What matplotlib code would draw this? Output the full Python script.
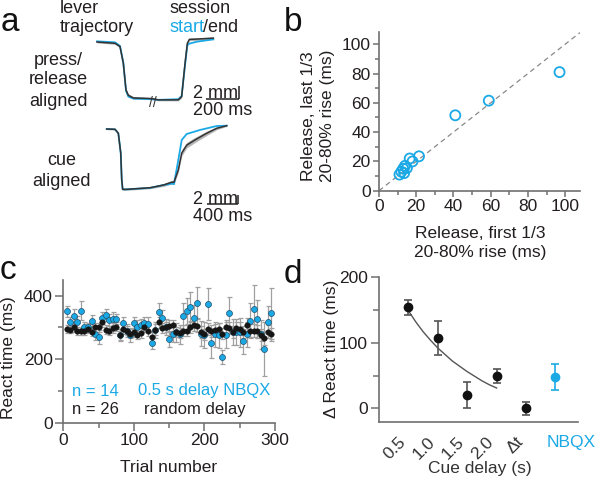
import numpy as np
import matplotlib
matplotlib.use('Agg')
import matplotlib.pyplot as plt
from matplotlib.ticker import MultipleLocator

plt.rcParams['font.family'] = ['Liberation Sans', 'DejaVu Sans']
plt.rcParams['font.size'] = 12.5

BLUE = '#1ba9e6'
AXC = '#707070'
TXT = '#231f20'
W, H = 600, 483

# ---- panel a : mean lever trajectories (time ms, position mm) ----
press_t = [0, 108, 138, 158, 174, 188, 218, 328, 368, 488, 508, 528, 542, 554, 600, 698]
press_black = [0, -0.2, -0.7, -3.3, -7.4, -8.2, -8.6, -8.7, -8.9, -8.9, -8.4, -3.3, -0.2, 0.4, 0.45, 0.6]
press_blue = [0.1, -0.05, -0.6, -3.2, -7.5, -8.4, -8.7, -8.8, -8.9, -8.8, -8.3, -3.6, -0.5, -0.25, 0.05, 0.4]
press_sem = [0.15, 0.15, 0.2, 0.3, 0.3, 0.25, 0.2, 0.15, 0.15, 0.15, 0.2, 0.3, 0.3, 0.2, 0.2, 0.15]

cue_t_blue = [0, 107, 150, 181, 194, 206, 258, 559, 730, 839, 868, 924, 968, 1032, 1204, 1419, 1548]
cue_blue = [0, -0.06, -0.9, -5.05, -10.7, -12.7, -12.7, -12.4, -11.8, -11.5, -11.6, -6.5, -2.3, -1.05, -0.2, 0.63, 0.7]
cue_t_black = [0, 107, 150, 181, 194, 206, 258, 559, 730, 839, 868, 924, 968, 1032, 1139, 1290, 1419, 1548]
cue_black = [0, -0.06, -0.9, -5.05, -10.7, -12.7, -12.7, -12.36, -11.8, -11.2, -11.2, -8.6, -5.05, -3.4, -2.3, -0.9, 0.15, 0.7]
cue_sem = [0.15, 0.15, 0.2, 0.3, 0.3, 0.2, 0.2, 0.2, 0.3, 0.4, 0.45, 0.5, 0.6, 0.6, 0.55, 0.45, 0.3, 0.15]

# ---- panel b : 20-80% rise times ----
rise_first = [97, 59, 41, 21.5, 16.5, 18, 14, 13, 12, 11, 13.5, 15]
rise_last = [81, 61.5, 51.5, 23.5, 22, 20, 17, 15, 13, 11, 12, 15.5]

# ---- panel c : reaction time across trials ----
trials = np.arange(5, 300, 5)
rt_nbqx = [350, 318, 337, 318, 353, 302, 300, 320, 279, 271, 329, 339, 323, 327, 326,
           276, 315, 289, 275, 315, 302, 308, 313, 310, 252, 292, 348, 331, 300, 263,
           278, 284, 278, 336, 352, 365, 329, 378, 280, 276, 373, 250, 278, 275, 208,
           276, 344, 285, 285, 284, 256, 278, 321, 359, 327, 278, 232, 316, 344]
rt_nbqx_err = [18, 15, 20, 18, 30, 15, 15, 18, 20, 22, 20, 18, 18, 20, 15,
               20, 18, 20, 22, 18, 20, 18, 20, 22, 20, 25, 28, 25, 25, 25,
               25, 30, 30, 40, 40, 45, 40, 50, 40, 40, 50, 45, 40, 40, 22,
               40, 50, 40, 40, 45, 40, 40, 55, 75, 60, 45, 85, 50, 80]
rt_random = [295, 293, 300, 288, 287, 290, 296, 285, 300, 300, 318, 292, 290, 298, 302,
             275, 295, 290, 280, 285, 276, 282, 300, 290, 270, 293, 316, 298, 300, 304,
             306, 285, 282, 290, 290, 300, 308, 305, 285, 278, 295, 288, 292, 295, 280,
             302, 298, 285, 298, 296, 286, 306, 290, 290, 288, 276, 265, 286, 278]
rt_random_err = [12, 12, 14, 12, 12, 13, 14, 12, 15, 14, 16, 14, 14, 15, 15,
                 14, 15, 15, 14, 14, 14, 15, 16, 16, 15, 16, 18, 16, 16, 18,
                 18, 16, 16, 18, 18, 18, 20, 20, 18, 18, 20, 18, 20, 20, 18,
                 20, 20, 18, 20, 20, 18, 22, 20, 20, 20, 20, 22, 20, 20]

# ---- panel d : delta reaction time vs cue delay ----
delay_labels = ['0.5', '1.0', '1.5', '2.0', '\u0394t', 'NBQX']
delta_rt = [154, 108, 20, 49, 0]
delta_rt_err = [11, 26, 20, 11, 10]
nbqx_rt, nbqx_err = 48, 19.5
fit_delay = [0.5, 0.625, 0.75, 0.875, 1.0, 1.125, 1.25, 1.375, 1.5, 1.625, 1.75, 1.875, 2.0]
fit_rt = [149, 132, 117, 104, 92, 82, 72, 64, 56, 49, 42, 36, 31]

fig = plt.figure(figsize=(6, 4.83), dpi=100)


def px_axes(x0, y0, x1, y1):
    return fig.add_axes([x0 / W, 1 - y1 / H, (x1 - x0) / W, (y1 - y0) / H])


def px_text(x, y, s, **kw):
    kw.setdefault('color', TXT)
    kw.setdefault('va', 'baseline')
    fig.text(x / W, 1 - y / H, s, **kw)


def style(ax, major=4, minor=3):
    for side in ['top', 'right']:
        ax.spines[side].set_visible(False)
    for side in ['left', 'bottom']:
        ax.spines[side].set_color(AXC)
        ax.spines[side].set_linewidth(1.2)
    ax.tick_params(which='major', length=major, width=1.1, color=AXC, labelcolor=TXT, pad=2)
    ax.tick_params(which='minor', length=minor, width=1.1, color=AXC)
    ax.patch.set_alpha(0)


# panel letters
for x, y, s in [(1, 31, 'a'), (284, 31, 'b'), (0, 279, 'c'), (284, 283, 'd')]:
    px_text(x, y, s, fontsize=24, color='#111111')

# ---- a ----
px_text(60, 13, 'lever', fontsize=13)
px_text(60, 31.5, 'trajectory', fontsize=13)
px_text(170, 13, 'session', fontsize=13)
px_text(170, 31.5, 'start', fontsize=13, color=BLUE)
px_text(203, 31.5, '/end', fontsize=13)
for y, s in [(65, 'press/'), (84.5, 'release'), (105.5, 'aligned')]:
    px_text(58.5, y, s, fontsize=13, ha='center')
for y, s in [(165, 'cue'), (186.5, 'aligned')]:
    px_text(61.5, y, s, fontsize=13, ha='center')

ax1 = px_axes(90, 30, 250, 110)
ax1.set_xlim(-42, 918)
ax1.set_ylim(-10.46, 1.846)
ax1.axis('off')
pb = np.array(press_black)
ps = np.array(press_sem)
ax1.fill_between(press_t, pb - ps, pb + ps, color='#b5b5b5', lw=0)
ax1.plot(press_t, press_blue, color=BLUE, lw=1.3)
ax1.plot(press_t, press_black, color='#333333', lw=1.1)
ax1.text(333, -9.4, '//', ha='center', va='center', fontsize=10, color='#333333')
ax1.plot([652, 852], [-8.8, -8.8], color='#222222', lw=1.1, solid_capstyle='butt')
ax1.plot([852, 852], [-8.8, -6.8], color='#222222', lw=1.1, solid_capstyle='butt')
px_text(193, 98.3, '2 mm', fontsize=13)
px_text(193, 115, '200 ms', fontsize=13)

ax2 = px_axes(100, 118, 250, 215)
ax2.set_xlim(-86.4, 1848.6)
ax2.set_ylim(-18.1, 2.316)
ax2.axis('off')
cb = np.array(cue_black)
cs = np.array(cue_sem)
ax2.fill_between(cue_t_black, cb - cs, cb + cs, color='#b5b5b5', lw=0)
ax2.plot(cue_t_blue, cue_blue, color=BLUE, lw=1.3)
ax2.plot(cue_t_black, cue_black, color='#333333', lw=1.1)
ax2.plot([1294, 1694], [-15.8, -15.8], color='#222222', lw=1.1, solid_capstyle='butt')
ax2.plot([1694, 1694], [-15.8, -13.8], color='#222222', lw=1.1, solid_capstyle='butt')
px_text(193, 204, '2 mm', fontsize=13)
px_text(193, 220.7, '400 ms', fontsize=13)

# ---- b ----
axb = px_axes(379, 31.7, 580, 190.7)
style(axb)
axb.plot([0, 108], [0, 108], ls=(0, (4, 3)), color='#888888', lw=0.9)
axb.scatter(rise_first, rise_last, s=52, facecolors='none', edgecolors=BLUE, linewidths=1.3, zorder=3)
axb.set_xlim(0, 108)
axb.set_ylim(0, 108.6)
axb.xaxis.set_major_locator(MultipleLocator(20))
axb.xaxis.set_minor_locator(MultipleLocator(10))
axb.yaxis.set_major_locator(MultipleLocator(20))
axb.yaxis.set_minor_locator(MultipleLocator(10))
axb.set_xlabel('Release, first 1/3\n20-80% rise (ms)', color=TXT, linespacing=1.3)
axb.xaxis.set_label_coords(0.502, -0.225)
axb.set_ylabel('Release, last 1/3\n20-80% rise (ms)', color=TXT, linespacing=1.3)
axb.yaxis.set_label_coords(-0.22, 0.47)

# ---- c ----
axc = px_axes(63.3, 280, 275, 422.7)
style(axc, major=5.5, minor=3.5)
axc.errorbar(trials, rt_nbqx, yerr=rt_nbqx_err, fmt='none', ecolor='#a0a0a0', elinewidth=0.9, capsize=1.8, capthick=0.9)
axc.errorbar(trials, rt_random, yerr=rt_random_err, fmt='none', ecolor='#a0a0a0', elinewidth=0.9, capsize=1.8, capthick=0.9)
axc.plot(trials, rt_nbqx, 'o', ms=4.3, mfc=BLUE, mec='#1f4f6a', mew=0.5, ls='none', zorder=3)
axc.plot(trials, rt_random, 'o', ms=4.0, mfc='#161616', mec='#161616', mew=0.3, ls='none', zorder=4)
axc.set_xlim(0, 300)
axc.set_ylim(0, 449)
axc.xaxis.set_major_locator(MultipleLocator(100))
axc.xaxis.set_minor_locator(MultipleLocator(50))
axc.yaxis.set_major_locator(MultipleLocator(200))
axc.yaxis.set_minor_locator(MultipleLocator(100))
axc.set_xlabel('Trial number', color=TXT)
axc.xaxis.set_label_coords(0.497, -0.262)
axc.set_ylabel('React time (ms)', color=TXT)
axc.yaxis.set_label_coords(-0.225, 0.453)
px_text(72, 395.5, 'n = 14', fontsize=12, color=BLUE)
px_text(138, 395.5, '0.5 s delay NBQX', fontsize=12, color=BLUE)
px_text(72, 414, 'n = 26', fontsize=12)
px_text(144, 414, 'random delay', fontsize=12)

# ---- d ----
axd = px_axes(379, 277.3, 578, 421.7)
style(axd, major=6, minor=4)
pos = np.arange(1, len(delta_rt) + 1)
axd.plot(np.array(fit_delay) * 2, fit_rt, color='#555555', lw=1.0)
axd.errorbar(pos, delta_rt, yerr=delta_rt_err, fmt='o', ms=6, color='#111111', ecolor='#555555',
             elinewidth=1.2, capsize=3, capthick=1.2, zorder=3)
axd.errorbar([6], [nbqx_rt], yerr=[nbqx_err], fmt='o', ms=6, color=BLUE, ecolor=BLUE,
             elinewidth=1.2, capsize=3, capthick=1.2, zorder=3)
axd.set_xlim(0, 6.77)
axd.set_ylim(-20.5, 200)
axd.yaxis.set_major_locator(MultipleLocator(100))
axd.yaxis.set_minor_locator(MultipleLocator(50))
axd.set_xticks(range(1, 7))
axd.set_xticklabels(delay_labels[:5] + [''], rotation=45, ha='right', color='#333333')
axd.tick_params(axis='x', length=0, pad=9)
axd.text(6.53, -0.173, delay_labels[5], transform=axd.get_xaxis_transform(),
         ha='center', va='baseline', color=BLUE)
axd.set_xlabel('Cue delay (s)', color='#333333')
axd.xaxis.set_label_coords(0.507, -0.275)
axd.set_ylabel('\u0394 React time (ms)', color=TXT)
axd.yaxis.set_label_coords(-0.2, 0.503)

fig.savefig('out.png', dpi=100)
